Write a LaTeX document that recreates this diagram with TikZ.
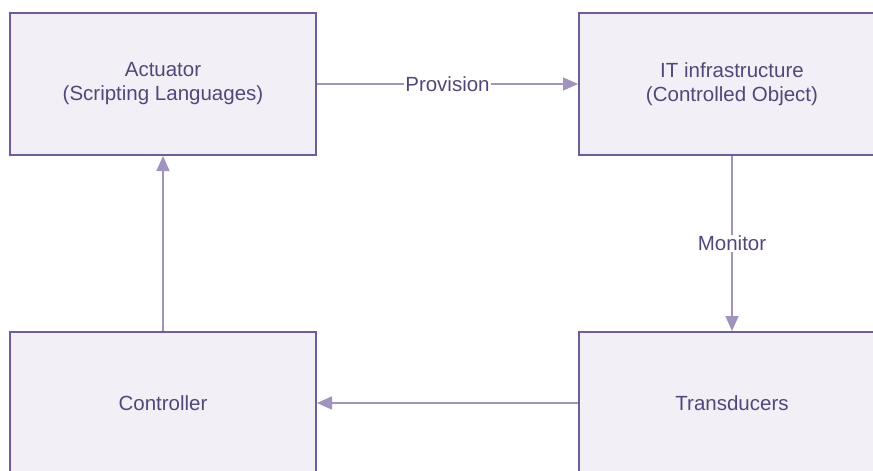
\documentclass[tikz,border=0pt]{standalone}
\usepackage{fontspec}
\setmainfont{Liberation Sans}
\usetikzlibrary{arrows.meta}
\definecolor{boxline}{HTML}{6F5C9A}
\definecolor{boxfill}{HTML}{F2F0F6}
\definecolor{linkline}{HTML}{A093BD}
\definecolor{labeltext}{HTML}{55467A}
\tikzset{
  block/.style={draw=boxline, fill=boxfill, line width=2pt,
    minimum width=306pt, minimum height=142pt, inner sep=0pt,
    align=center, text=labeltext, font=\fontsize{20.5}{24}\selectfont},
  link/.style={draw=linkline, line width=1.6pt,
    -{Triangle[length=15pt,width=13pt,fill=linkline]}},
  linklabel/.style={fill=white, inner sep=1pt, text=labeltext,
    font=\fontsize{20.5}{24}\selectfont}
}
\begin{document}
\begin{tikzpicture}[x=1pt,y=1pt]
  \useasboundingbox (0,0) rectangle (873,-471);
  \fill[white] (0,0) rectangle (873,-471);

  \node[block] (act)   at (163,-84)  {Actuator\\(Scripting Languages)};
  \node[block] (itinf) at (732,-84)  {IT infrastructure\\(Controlled Object)};
  \node[block] (ctrl)  at (163,-403) {Controller};
  \node[block] (trans) at (732,-403) {Transducers};

  \draw[link] (act.east) -- node[linklabel] (prov) {Provision} (itinf.west);
  \draw[link] (itinf.south) -- node[linklabel] (mon) {Monitor} (trans.north);
  \draw[link] (trans.west) -- (ctrl.east);
  \draw[link] (ctrl.north) -- (act.south);
\end{tikzpicture}
\end{document}
